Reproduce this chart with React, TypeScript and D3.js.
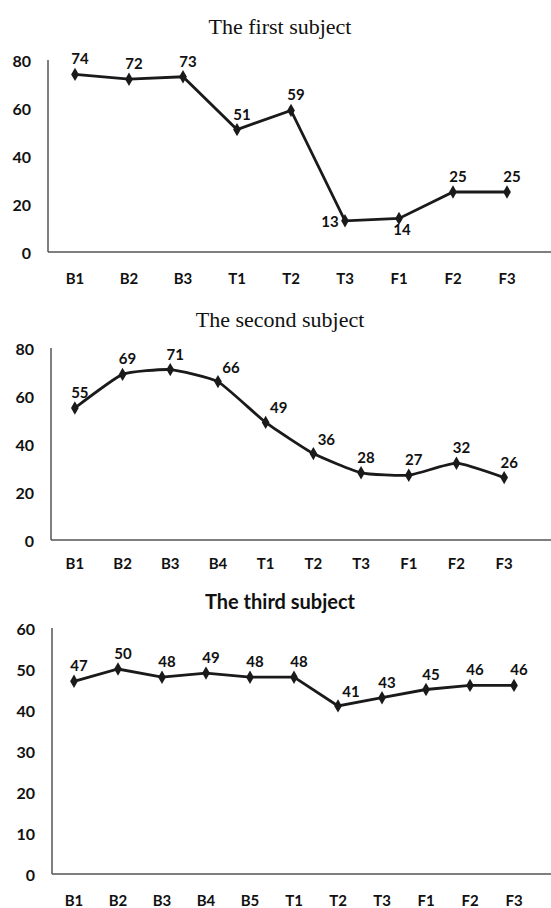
import React, { useEffect, useRef } from 'react'
import * as d3 from 'd3'

// first subject
const cats1 = ['B1', 'B2', 'B3', 'T1', 'T2', 'T3', 'F1', 'F2', 'F3']
const vals1 = [74, 72, 73, 51, 59, 13, 14, 25, 25]
const place1 = ['top', 'top', 'top', 'top', 'top', 'left', 'below', 'top', 'top']
const ticks1 = [0, 20, 40, 60, 80]

// second subject
const cats2 = ['B1', 'B2', 'B3', 'B4', 'T1', 'T2', 'T3', 'F1', 'F2', 'F3']
const vals2 = [55, 69, 71, 66, 49, 36, 28, 27, 32, 26]
const place2 = ['top', 'top', 'top', 'right', 'right', 'right', 'top', 'top', 'top', 'top']
const ticks2 = [0, 20, 40, 60, 80]

// third subject
const cats3 = ['B1', 'B2', 'B3', 'B4', 'B5', 'T1', 'T2', 'T3', 'F1', 'F2', 'F3']
const vals3 = [47, 50, 48, 49, 48, 48, 41, 43, 45, 46, 46]
const place3 = ['top', 'top', 'top', 'top', 'top', 'top', 'right', 'top', 'top', 'top', 'top']
const ticks3 = [0, 10, 20, 30, 40, 50, 60]

const sans = 'Lato, Calibri, "Open Sans", sans-serif'
const serif = '"Liberation Serif", "Times New Roman", serif'

const panels = [
    { title: 'The first subject', titleFont: serif, titleWeight: 400, titleSize: 22, titleY: 26, cats: cats1, vals: vals1, place: place1, ticks: ticks1, max: 80, top: 60, bottom: 252, left: 48, labelY: 278, smooth: false },
    { title: 'The second subject', titleFont: serif, titleWeight: 400, titleSize: 22, titleY: 319, cats: cats2, vals: vals2, place: place2, ticks: ticks2, max: 80, top: 348, bottom: 540, left: 51, labelY: 563, smooth: true },
    { title: 'The third subject', titleFont: sans, titleWeight: 700, titleSize: 20, titleY: 601, cats: cats3, vals: vals3, place: place3, ticks: ticks3, max: 60, top: 628, bottom: 874, left: 52, labelY: 900, smooth: false },
]

const W = 551
const H = 908

const App = () => {
    const ref = useRef(null)
    useEffect(() => {
        const svg = d3.select(ref.current)
        svg.selectAll('*').remove()

        panels.forEach(p => {
            const g = svg.append('g')
            const bandW = p.cats.length === 9 ? 54 : p.cats.length === 10 ? 47.7 : 44
            const x = d3.scaleBand()
                .domain(p.cats)
                .range([p.left, p.left + bandW * p.cats.length])
            const y = d3.scaleLinear()
                .domain([0, p.max])
                .range([p.bottom, p.top])
            const cx = (c) => x(c) + x.bandwidth() / 2

            g.append('text')
                .attr('x', 280)
                .attr('y', p.titleY)
                .attr('text-anchor', 'middle')
                .attr('dominant-baseline', 'central')
                .attr('font-family', p.titleFont)
                .attr('font-weight', p.titleWeight)
                .attr('font-size', p.titleSize)
                .attr('fill', '#111')
                .text(p.title)

            // axis lines
            g.append('line')
                .attr('x1', p.left).attr('x2', p.left)
                .attr('y1', p.top).attr('y2', p.bottom)
                .attr('stroke', '#555').attr('stroke-width', 1.5)
            g.append('line')
                .attr('x1', p.left).attr('x2', W)
                .attr('y1', p.bottom).attr('y2', p.bottom)
                .attr('stroke', '#555').attr('stroke-width', 1.5)

            g.selectAll('.ytick')
                .data(p.ticks)
                .join('text')
                .attr('x', p.left - 17)
                .attr('y', d => y(d))
                .attr('text-anchor', 'end')
                .attr('dominant-baseline', 'central')
                .attr('font-family', sans)
                .attr('font-weight', 700)
                .attr('font-size', 16)
                .attr('fill', '#111')
                .text(d => d)

            g.selectAll('.xtick')
                .data(p.cats)
                .join('text')
                .attr('x', d => cx(d))
                .attr('y', p.labelY)
                .attr('text-anchor', 'middle')
                .attr('dominant-baseline', 'central')
                .attr('font-family', sans)
                .attr('font-weight', 700)
                .attr('font-size', 15)
                .attr('fill', '#111')
                .text(d => d)

            const line = d3.line()
                .x((d, i) => cx(p.cats[i]))
                .y(d => y(d))
                .curve(p.smooth ? d3.curveCardinal.tension(0.55) : d3.curveLinear)

            g.append('path')
                .attr('d', line(p.vals))
                .attr('fill', 'none')
                .attr('stroke', '#1a1a1a')
                .attr('stroke-width', 2.8)

            g.selectAll('.mark')
                .data(p.vals)
                .join('path')
                .attr('d', d3.symbol(d3.symbolDiamond, 52)())
                .attr('transform', (d, i) => `translate(${cx(p.cats[i])},${y(d)})`)
                .attr('fill', '#1a1a1a')

            const off = {
                top: [5, -16],
                left: [-15, 0],
                below: [3, 11],
                right: [13, -15],
            }
            g.selectAll('.lab')
                .data(p.vals)
                .join('text')
                .attr('x', (d, i) => cx(p.cats[i]) + off[p.place[i]][0])
                .attr('y', (d, i) => y(d) + off[p.place[i]][1])
                .attr('text-anchor', 'middle')
                .attr('dominant-baseline', 'central')
                .attr('font-family', sans)
                .attr('font-weight', 700)
                .attr('font-size', 15)
                .attr('fill', '#111')
                .text(d => d)
        })
    }, [])

    return (
        <svg ref={ref} width={W} height={H}
            style={{ position: 'absolute', left: 0, top: 0, background: '#fff' }} />
    )
}

export default App
